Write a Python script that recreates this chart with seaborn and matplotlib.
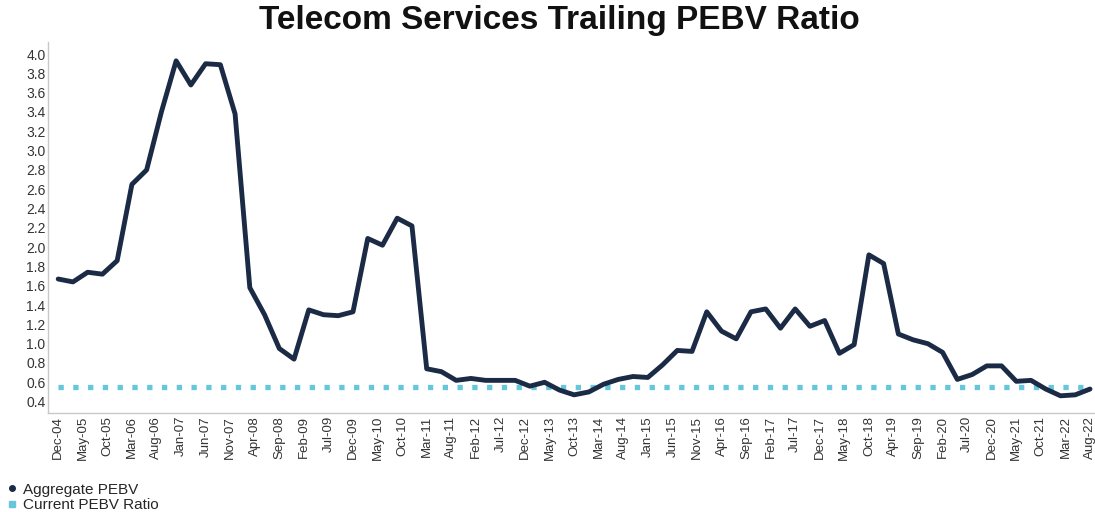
# ================================
# 1. IMPORTS
# ================================
import numpy as np
import pandas as pd
import matplotlib
matplotlib.use("Agg")
import matplotlib.pyplot as plt
from matplotlib.lines import Line2D
import seaborn as sns

# ================================
# 2. DATA (quarterly points)
# ================================
aggregate_pebv = [
    1.67, 1.64, 1.74, 1.72, 1.86, 2.65, 2.80, 3.40, 3.93, 3.68,
    3.90, 3.89, 3.38, 1.58, 1.30, 0.95, 0.84, 1.35, 1.30, 1.29,
    1.33, 2.09, 2.02, 2.30, 2.22, 0.74, 0.71, 0.62, 0.64, 0.62,
    0.62, 0.62, 0.56, 0.60, 0.52, 0.47, 0.50, 0.58, 0.63, 0.66,
    0.65, 0.78, 0.93, 0.92, 1.33, 1.13, 1.05, 1.33, 1.36, 1.16,
    1.36, 1.18, 1.24, 0.90, 0.99, 1.92, 1.83, 1.10, 1.04, 1.00,
    0.91, 0.63, 0.68, 0.77, 0.77, 0.61, 0.62, 0.53, 0.46, 0.47,
    0.53,
]
current_pebv = 0.55

tick_labels = [
    "Dec-04", "May-05", "Oct-05", "Mar-06", "Aug-06", "Jan-07", "Jun-07",
    "Nov-07", "Apr-08", "Sep-08", "Feb-09", "Jul-09", "Dec-09", "May-10",
    "Oct-10", "Mar-11", "Aug-11", "Feb-12", "Jul-12", "Dec-12", "May-13",
    "Oct-13", "Mar-14", "Aug-14", "Jan-15", "Jun-15", "Nov-15", "Apr-16",
    "Sep-16", "Feb-17", "Jul-17", "Dec-17", "May-18", "Oct-18", "Apr-19",
    "Sep-19", "Feb-20", "Jul-20", "Dec-20", "May-21", "Oct-21", "Mar-22",
    "Aug-22",
]

df = pd.DataFrame({
    "period": np.arange(len(aggregate_pebv)),
    "pebv": aggregate_pebv,
})
df["current"] = current_pebv

# labels sit every 5 months, points every 3 months
tick_pos = np.arange(len(tick_labels)) * 5 / 3

# ================================
# 3. STYLE
# ================================
sns.set_style("white")
plt.rcParams["font.family"] = ["Liberation Sans", "DejaVu Sans"]

navy = "#1b2a45"
light_blue = "#66c6dc"

# ================================
# 4. PLOT
# ================================
fig = plt.figure(figsize=(10.95, 5.12), dpi=100)
ax = fig.add_axes([0.044, 0.193, 0.956, 0.724])

sns.lineplot(data=df, x="period", y="current", ax=ax, color=light_blue,
             linewidth=3.8)
ax.lines[-1].set_dashes((1.0, 1.8))
ax.lines[-1].set_dash_capstyle("butt")
sns.lineplot(data=df, x="period", y="pebv", ax=ax, color=navy,
             linewidth=3.5)

ax.set_xlim(-0.68, 70.34)
ax.set_ylim(0.28, 4.12)
ax.set_yticks(np.arange(0.4, 4.01, 0.2))
ax.set_yticklabels([f"{v:.1f}" for v in np.arange(0.4, 4.01, 0.2)],
                   fontsize=10, color="#333333")
ax.set_xticks(tick_pos)
ax.set_xticklabels(tick_labels, rotation=90, fontsize=9.5, color="#333333")
ax.tick_params(axis="both", length=0, pad=2)
ax.set_xlabel("")
ax.set_ylabel("")

for side in ["top", "right"]:
    ax.spines[side].set_visible(False)
for side in ["left", "bottom"]:
    ax.spines[side].set_color("#c8c8c8")
    ax.spines[side].set_linewidth(1)

fig.suptitle("Telecom Services Trailing PEBV Ratio", x=0.511, y=0.99,
             fontsize=24, fontweight="bold", color="#111111")

# ================================
# 5. LEGEND
# ================================
handles = [
    Line2D([], [], linestyle="none", marker="o", markersize=4,
           color=navy),
    Line2D([], [], linestyle="none", marker="s", markersize=4,
           color=light_blue),
]
fig.legend(handles, ["Aggregate PEBV", "Current PEBV Ratio"],
           loc="lower left", bbox_to_anchor=(-0.002, -0.018),
           frameon=False, fontsize=11, handlelength=0.7,
           handletextpad=0.35, labelspacing=0.1, borderaxespad=0.2)

fig.savefig("out.png", dpi=100)
